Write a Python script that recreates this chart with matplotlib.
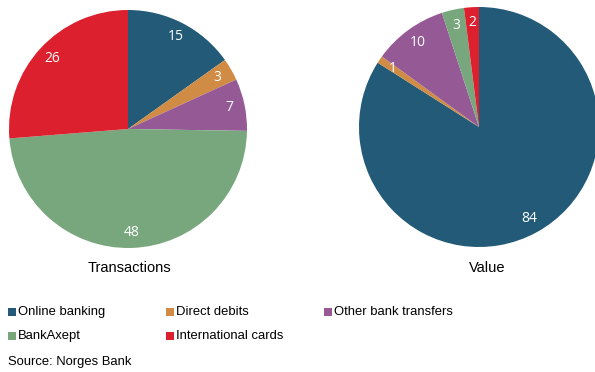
import numpy as np
import matplotlib
matplotlib.use('Agg')
import matplotlib.pyplot as plt
from matplotlib.patches import Rectangle

plt.rcParams['font.family'] = ['Liberation Sans', 'DejaVu Sans']

categories = ['Online banking', 'Direct debits', 'Other bank transfers',
              'BankAxept', 'International cards']
transactions = [15, 3, 7, 48, 26]
value = [84, 1, 10, 3, 2]
colors = ['#225A78', '#D08C45', '#955A96', '#78A77E', '#DC202E']

W, H = 595, 372
fig = plt.figure(figsize=(W / 100, H / 100), dpi=100)


def px_axes(cx, cy, r):
    # axes box in pixels (origin top-left) for a pie of radius r at (cx, cy)
    return fig.add_axes([(cx - r) / W, (H - cy - r) / H, 2 * r / W, 2 * r / H])


def draw_pie(ax, vals, title, title_x):
    total = sum(vals)
    ax.pie(vals, colors=colors, startangle=90, counterclock=False,
           autopct=lambda p: '%d' % round(p * total / 100.0),
           pctdistance=0.87,
           textprops=dict(color='white', fontsize=10, family='Open Sans'),
           wedgeprops=dict(linewidth=0))
    ax.set_xlim(-1, 1)
    ax.set_ylim(-1, 1)
    ax.set_aspect('equal')
    fig.text(title_x / W, 1 - 268 / H, title, ha='center', va='center', fontsize=10.5)


ax1 = px_axes(128, 129, 119)
draw_pie(ax1, transactions, 'Transactions', 129)

ax2 = px_axes(479, 127, 120)
draw_pie(ax2, value, 'Value', 487)

# legend laid out in three columns
col_x = [8, 166, 324]
row_y = [312, 336]
for i, (name, c) in enumerate(zip(categories, colors)):
    x = col_x[i % 3]
    y = row_y[i // 3]
    fig.patches.append(Rectangle((x / W, 1 - (y + 4) / H), 8 / W, 8 / H,
                                 transform=fig.transFigure, facecolor=c,
                                 edgecolor='none'))
    fig.text((x + 10) / W, 1 - y / H, name, ha='left', va='center', fontsize=9.4)

fig.text(8 / W, 1 - 362 / H, 'Source: Norges Bank', ha='left', va='center', fontsize=9.4)

plt.savefig('out.png', dpi=100)
